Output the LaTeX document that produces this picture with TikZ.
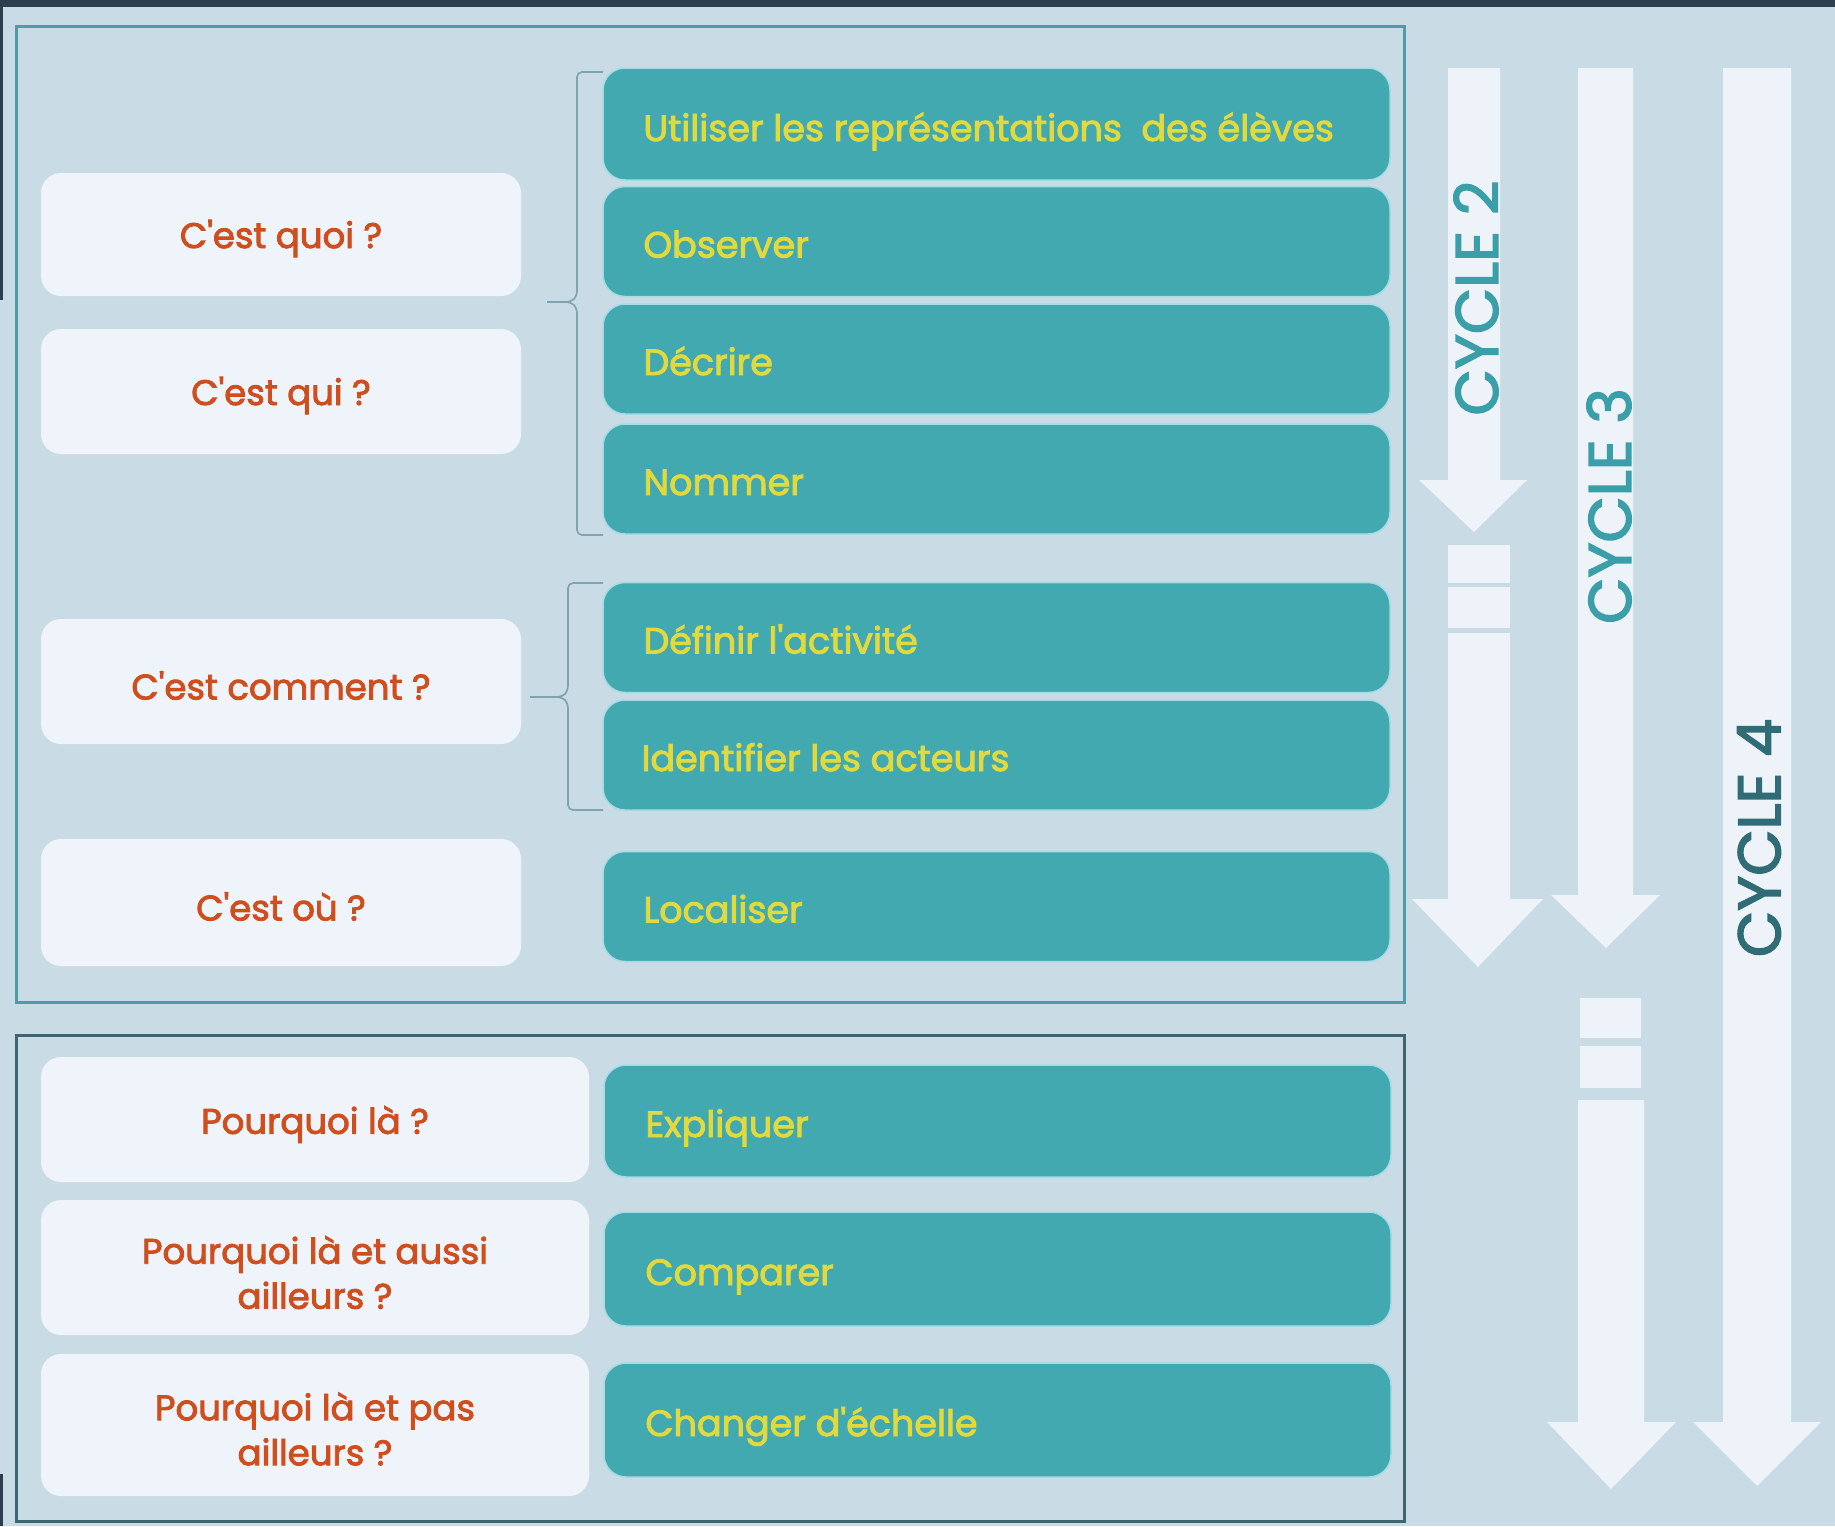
\documentclass[tikz,border=0pt]{standalone}
\usepackage{fontspec}
\setmainfont{Poppins}
\newfontfamily\semib{Poppins}[FakeBold=2.5]
\definecolor{bgc}{HTML}{C9DBE4}
\definecolor{darkc}{HTML}{2C3E50}
\definecolor{panelA}{HTML}{4F9CA5}
\definecolor{panelB}{HTML}{3F6670}
\definecolor{whitec}{HTML}{EEF4F9}
\definecolor{tealc}{HTML}{42A9B1}
\definecolor{tealedge}{HTML}{A4DCE5}
\definecolor{yellowc}{HTML}{E2DA3C}
\definecolor{orangec}{HTML}{CF4E1E}
\definecolor{arrowc}{HTML}{EDF3F8}
\definecolor{cyctwo}{HTML}{3A9FA8}
\definecolor{cycfour}{HTML}{2F6C76}
\definecolor{bracec}{HTML}{7FA4AF}
\begin{document}
\begin{tikzpicture}[x=1pt,y=-1pt,
  qbox/.style={fill=whitec, draw=none, rounded corners=20pt, minimum width=480pt, inner sep=0pt},
  qboxw/.style={qbox, minimum width=548pt},
  qtext/.style={align=center, text=orangec, inner sep=0pt,
    font=\semib\fontsize{35.5}{45}\selectfont},
  abox/.style={fill=tealc, draw=tealedge, line width=1.5pt, rounded corners=22pt,
    minimum width=787pt, minimum height=110pt, inner sep=0pt},
  atext/.style={anchor=base west, text=yellowc, inner sep=0pt,
    font=\semib\fontsize{36.5}{40}\selectfont},
  cyc/.style={rotate=90, inner sep=0pt, font=\semib\fontsize{60}{60}\selectfont},
  brace/.style={draw=bracec, line width=1.6pt, rounded corners=5pt},
  arr/.style={fill=arrowc, draw=none}
]
\useasboundingbox (0,0) rectangle (1835,1526);
\fill[bgc] (0,0) rectangle (1835,1526);
\fill[darkc] (0,0) rectangle (1835,7);
\fill[darkc] (0,0) rectangle (3,300);
\fill[darkc] (0,1474) rectangle (3,1526);

% panels
\draw[panelA, line width=3pt] (16,26) rectangle (1404,1002);
\draw[panelB, line width=3pt] (16,1035) rectangle (1404,1521);

% arrows
\fill[arr] (1448,68) -- (1500,68) -- (1500,480) -- (1527,480) -- (1474,532) -- (1419,480) -- (1448,480) -- cycle;
\fill[arr] (1448,545) rectangle (1510,583);
\fill[arr] (1448,587) rectangle (1510,628);
\fill[arr] (1448,633) -- (1510,633) -- (1510,899) -- (1543,899) -- (1478,967) -- (1412,899) -- (1448,899) -- cycle;
\fill[arr] (1578,68) -- (1633,68) -- (1633,895) -- (1660,895) -- (1606,948) -- (1551,895) -- (1578,895) -- cycle;
\fill[arr] (1580,998) rectangle (1641,1038);
\fill[arr] (1580,1046) rectangle (1641,1088);
\fill[arr] (1578,1100) -- (1644,1100) -- (1644,1422) -- (1676,1422) -- (1611,1489) -- (1547,1422) -- (1578,1422) -- cycle;
\fill[arr] (1723,68) -- (1791,68) -- (1791,1422) -- (1821,1422) -- (1757,1486) -- (1693,1422) -- (1723,1422) -- cycle;

\node[cyc, text=cyctwo] (cy2) at (1476,298) {CYCLE 2};
\node[cyc, text=cyctwo] (cy3) at (1609,506) {CYCLE 3};
\node[cyc, text=cycfour] (cy4) at (1759,838) {CYCLE 4};

% question boxes
\node[qbox, minimum height=123pt] (quoi) at (281,234.5) {};
\node[qbox, minimum height=125pt] (qui) at (281,391.5) {};
\node[qbox, minimum height=125pt] (comment) at (281,681.5) {};
\node[qbox, minimum height=127pt] (ou) at (281,902.5) {};
\node[qboxw, minimum height=125pt] (pq1) at (315,1119.5) {};
\node[qboxw, minimum height=135pt] (pq2) at (315,1267.5) {};
\node[qboxw, minimum height=142pt] (pq3) at (315,1425) {};
\node[qtext] (quoi-t) at ([yshift=-4pt]quoi.center) {C'est quoi ?};
\node[qtext] (qui-t) at ([yshift=-4pt]qui.center) {C'est qui ?};
\node[qtext] (comment-t) at ([yshift=-4pt]comment.center) {C'est comment ?};
\node[qtext] (ou-t) at ([yshift=-4pt]ou.center) {C'est où ?};
\node[qtext] (pq1-t) at ([yshift=-5pt]pq1.center) {Pourquoi là ?};
\node[qtext] (pq2-t) at ([yshift=-5pt]pq2.center) {Pourquoi là et aussi\\ailleurs ?};
\node[qtext] (pq3-t) at ([yshift=-4pt]pq3.center) {Pourquoi là et pas\\ailleurs ?};

% action boxes
\node[abox, minimum height=112pt] (util) at (996.5,124) {};
\node[abox] (obs) at (996.5,241.5) {};
\node[abox] (dec) at (996.5,359) {};
\node[abox] (nom) at (996.5,479) {};
\node[abox] (def) at (996.5,637.5) {};
\node[abox] (ide) at (996.5,755) {};
\node[abox] (loc) at (996.5,906.5) {};
\node[abox, minimum height=112pt] (exp) at (997.5,1121) {};
\node[abox, minimum height=114pt] (com) at (997.5,1269) {};
\node[abox, minimum height=114pt] (cha) at (997.5,1420) {};
\node[atext] (util-t) at ([xshift=41pt,yshift=-17pt]util.west) {Utiliser les représentations\ \ des élèves};
\node[atext] (obs-t) at ([xshift=41pt,yshift=-16pt]obs.west) {Observer};
\node[atext] (dec-t) at ([xshift=41pt,yshift=-16pt]dec.west) {Décrire};
\node[atext] (nom-t) at ([xshift=41pt,yshift=-16pt]nom.west) {Nommer};
\node[atext] (def-t) at ([xshift=41pt,yshift=-16pt]def.west) {Définir l'activité};
\node[atext] (ide-t) at ([xshift=39pt,yshift=-16pt]ide.west) {Identifier les acteurs};
\node[atext] (loc-t) at ([xshift=41pt,yshift=-16pt]loc.west) {Localiser};
\node[atext] (exp-t) at ([xshift=42pt,yshift=-16pt]exp.west) {Expliquer};
\node[atext] (com-t) at ([xshift=42pt,yshift=-16pt]com.west) {Comparer};
\node[atext] (cha-t) at ([xshift=42pt,yshift=-16pt]cha.west) {Changer d'échelle};

% braces
\coordinate (b1top) at (603,72);
\coordinate (b1bot) at (603,535);
\coordinate (b1mid) at (547,302);
\draw[brace] (b1top) -- (577,72) -- (577,296) -- (571,302) -- (b1mid);
\draw[brace] (b1mid) -- (571,302) -- (577,308) -- (577,535) -- (b1bot);
\coordinate (b2top) at (603,583);
\coordinate (b2bot) at (603,810);
\coordinate (b2mid) at (530,697);
\draw[brace] (b2top) -- (568,583) -- (568,691) -- (562,697) -- (b2mid);
\draw[brace] (b2mid) -- (562,697) -- (568,703) -- (568,810) -- (b2bot);
\end{tikzpicture}
\end{document}
